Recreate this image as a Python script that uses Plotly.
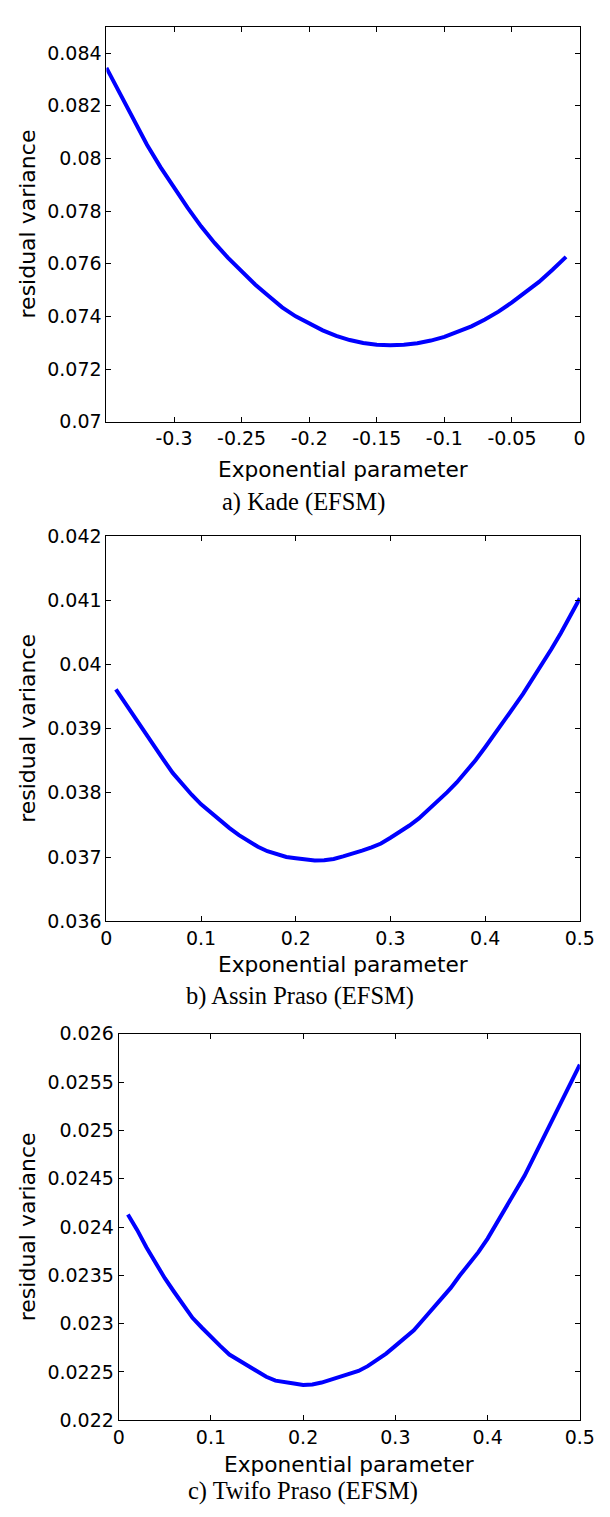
import plotly.graph_objects as go

# ---------------- data ----------------
x_a = [-0.35, -0.34, -0.33, -0.32, -0.31, -0.30, -0.29, -0.28, -0.27, -0.26,
       -0.25, -0.24, -0.23, -0.22, -0.21, -0.20, -0.19, -0.18, -0.17, -0.16,
       -0.15, -0.14, -0.13, -0.12, -0.11, -0.10, -0.09, -0.08, -0.07, -0.06,
       -0.05, -0.04, -0.03, -0.02, -0.01]
y_a = [0.08344, 0.08244, 0.08145, 0.08052, 0.07967, 0.07888, 0.07813, 0.07742, 0.07679, 0.07622,
       0.07569, 0.07521, 0.07477, 0.07434, 0.07400, 0.07372, 0.07347, 0.07326, 0.07310, 0.07299,
       0.07292, 0.07290, 0.07292, 0.07298, 0.07308, 0.07322, 0.07340, 0.07362, 0.07388, 0.07418,
       0.07453, 0.07490, 0.07531, 0.07577, 0.07626]

x_b = [0.01, 0.02, 0.03, 0.04, 0.05, 0.06, 0.07, 0.08, 0.09, 0.10,
       0.11, 0.12, 0.13, 0.14, 0.15, 0.16, 0.17, 0.18, 0.19, 0.20,
       0.21, 0.22, 0.23, 0.24, 0.25, 0.26, 0.27, 0.28, 0.29, 0.30,
       0.31, 0.32, 0.33, 0.34, 0.35, 0.36, 0.37, 0.38, 0.39, 0.40,
       0.41, 0.42, 0.43, 0.44, 0.45, 0.46, 0.47, 0.48, 0.49, 0.50]
y_b = [0.03961, 0.03939, 0.03917, 0.03895, 0.03872, 0.03852, 0.03831, 0.03813, 0.03797, 0.03782,
       0.03769, 0.03757, 0.03745, 0.03734, 0.03725, 0.03716, 0.03709, 0.03704, 0.03700, 0.03698,
       0.03696, 0.036945, 0.03695, 0.03697, 0.03701, 0.03705, 0.03710, 0.03715, 0.03721, 0.03730,
       0.03739, 0.03749, 0.03760, 0.03773, 0.03787, 0.03801, 0.03816, 0.03833, 0.03851, 0.03871,
       0.03891, 0.03912, 0.03933, 0.03954, 0.03977, 0.03999, 0.04024, 0.04049, 0.04075, 0.04103]

x_c = x_b
y_c = [0.02413, 0.02397, 0.02379, 0.02362, 0.02347, 0.02333, 0.02319, 0.02306, 0.02296, 0.02286,
       0.02277, 0.02268, 0.02262, 0.02256, 0.02250, 0.02245, 0.02241, 0.02239, 0.02238, 0.022366,
       0.02237, 0.02239, 0.02242, 0.02244, 0.02247, 0.02251, 0.02256, 0.02262, 0.02269, 0.02277,
       0.02285, 0.02293, 0.02304, 0.02315, 0.02326, 0.02337, 0.02350, 0.02362, 0.02374, 0.02388,
       0.02404, 0.02420, 0.02436, 0.02453, 0.02472, 0.02491, 0.02510, 0.02528, 0.02548, 0.02568]

xt_a = [-0.3, -0.25, -0.2, -0.15, -0.1, -0.05, 0]
xl_a = ["-0.3", "-0.25", "-0.2", "-0.15", "-0.1", "-0.05", "0"]
yt_a = [0.07, 0.072, 0.074, 0.076, 0.078, 0.08, 0.082, 0.084]
yl_a = ["0.07", "0.072", "0.074", "0.076", "0.078", "0.08", "0.082", "0.084"]

xt_bc = [0, 0.1, 0.2, 0.3, 0.4, 0.5]
xl_bc = ["0", "0.1", "0.2", "0.3", "0.4", "0.5"]
yt_b = [0.036, 0.037, 0.038, 0.039, 0.04, 0.041, 0.042]
yl_b = ["0.036", "0.037", "0.038", "0.039", "0.04", "0.041", "0.042"]
yt_c = [0.022, 0.0225, 0.023, 0.0235, 0.024, 0.0245, 0.025, 0.0255, 0.026]
yl_c = ["0.022", "0.0225", "0.023", "0.0235", "0.024", "0.0245", "0.025", "0.0255", "0.026"]

captions = ["a) Kade (EFSM)", "b) Assin Praso (EFSM)", "c) Twifo Praso (EFSM)"]
xlabel = "Exponential parameter"
ylabel = "residual variance"

# ---------------- layout helpers ----------------
W, H = 610, 1517
SANS = "DejaVu Sans, Arial, sans-serif"
SERIF = "Liberation Serif, Times New Roman, serif"
BLUE = "#0000FF"

def px_x(p):
    return p / W

def px_y(p):
    return 1 - p / H

# pixel boxes of the three axes: (left, right, top, bottom)
boxes = [(104.0, 594.0, 16.0, 416.7),
         (104.0, 594.3, 532.7, 923.6),
         (116.7, 594.3, 1037.8, 1430.0)]
xranges = [[-0.35, 0], [0, 0.5], [0, 0.5]]
yranges = [[0.07, 0.085], [0.036, 0.042], [0.022, 0.026]]
xticks = [(xt_a, xl_a), (xt_bc, xl_bc), (xt_bc, xl_bc)]
yticks = [(yt_a, yl_a), (yt_b, yl_b), (yt_c, yl_c)]
xtitle_y = [462.8, 966.0, 1472.5]
caption_pos = [(308, 497.5), (304, 999.0), (308, 1501.0)]
series = [(x_a, y_a), (x_b, y_b), (x_c, y_c)]

fig = go.Figure()
annotations = []
layout = dict(width=W, height=H, margin=dict(l=0, r=0, t=0, b=0),
              paper_bgcolor="white", plot_bgcolor="white", showlegend=False)

for i in range(3):
    n = "" if i == 0 else str(i + 1)
    xs, ys = series[i]
    fig.add_trace(go.Scatter(x=xs, y=ys, mode="lines",
                             line=dict(color=BLUE, width=4),
                             xaxis="x" + n, yaxis="y" + n))
    l, r, t, b = boxes[i]
    common = dict(showline=True, linecolor="black", linewidth=1, mirror="ticks",
                  ticks="inside", ticklen=5, tickcolor="black", tickwidth=1,
                  showgrid=False, zeroline=False,
                  tickfont=dict(family=SANS, size=19, color="black"))
    layout["xaxis" + n] = dict(domain=[px_x(l), px_x(r)], range=xranges[i],
                               anchor="y" + n, tickmode="array",
                               tickvals=xticks[i][0], ticktext=xticks[i][1],
                               **common)
    layout["yaxis" + n] = dict(domain=[px_y(b), px_y(t)], range=yranges[i],
                               anchor="x" + n, tickmode="array",
                               tickvals=yticks[i][0], ticktext=yticks[i][1],
                               **common)
    # x label
    annotations.append(dict(text=xlabel, x=px_x((l + r) / 2), y=px_y(xtitle_y[i] + 2),
                            xref="paper", yref="paper", showarrow=False,
                            xanchor="center", yanchor="middle",
                            font=dict(family=SANS, size=21.7, color="black")))
    # y label
    annotations.append(dict(text=ylabel, x=px_x(22), y=px_y((t + b) / 2),
                            xref="paper", yref="paper", showarrow=False,
                            textangle=-90, xanchor="center", yanchor="middle",
                            font=dict(family=SANS, size=22, color="black")))
    # caption
    cx, cy = caption_pos[i]
    annotations.append(dict(text=captions[i], x=px_x(cx), y=px_y(cy + 1),
                            xref="paper", yref="paper", showarrow=False,
                            xanchor="center", yanchor="middle",
                            font=dict(family=SERIF, size=24.5, color="black")))

layout["annotations"] = annotations
fig.update_layout(**layout)
fig.write_html("out.html")
